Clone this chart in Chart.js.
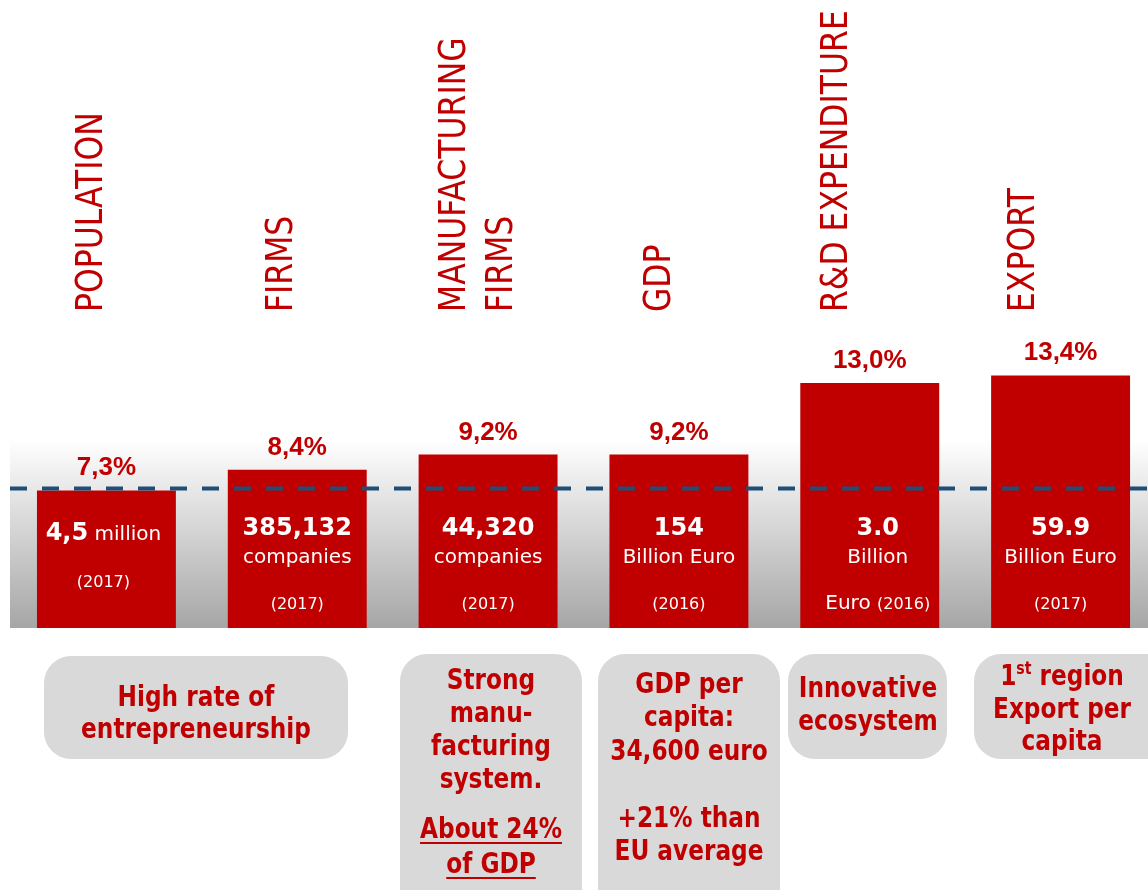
<!DOCTYPE html>
<html>
<head>
<meta charset="utf-8">
<script src="https://cdn.jsdelivr.net/npm/chart.js@4"></script>
<style>
  html, body { margin: 0; padding: 0; overflow: hidden; background: #fff; }
</style>
</head>
<body>
<canvas id="myChart" width="1160" height="890"></canvas>
<script>
// data
const categories = [['POPULATION'], ['FIRMS'], ['MANUFACTURING', 'FIRMS'], ['GDP'], ['R&D EXPENDITURE'], ['EXPORT']];
const shares = [7.3, 8.4, 9.2, 9.2, 13.0, 13.4];
const euAverage = 7.4;
const amounts = ['4,5', '385,132', '44,320', '154', '3.0', '59.9'];
const units = [' million', 'companies', 'companies', 'Billion Euro', 'Billion|Euro', 'Billion Euro'];
const years = ['(2017)', '(2017)', '(2017)', '(2016)', '(2016)', '(2017)'];
const notes = [
  ['High rate of', 'entrepreneurship'],
  ['Strong', 'manu-', 'facturing', 'system.', '_About 24%', '_of GDP'],
  ['GDP per', 'capita:', '34,600 euro', '+21% than', 'EU average'],
  ['Innovative', 'ecosystem'],
  ['1^st region', 'Export per', 'capita']
];

// layout
const RED = '#c00000';
const headShift = [-4, -5, -23, -9, -23, -27];
const innerShift = [-3, 0, 0, 0, 8, 0];
const noteBoxes = [
  { x: 44, y: 656, w: 304, h: 103, cx: 196, base: [706, 738] },
  { x: 400, y: 654, w: 182, h: 270, cx: 491, base: [689, 722, 755, 788, 838, 873] },
  { x: 598, y: 654, w: 182, h: 270, cx: 689, base: [693, 726, 760, 827, 860] },
  { x: 788, y: 654, w: 159, h: 105, cx: 868, base: [697, 730] },
  { x: 974, y: 654, w: 210, h: 105, cx: 1062, base: [685, 718, 750] }
];

// draws a list of [text, font, dy] pieces centred on cx
function drawRich(ctx, pieces, cx, y, sx, underline) {
  let widths = pieces.map(p => { ctx.font = p[1]; return ctx.measureText(p[0]).width * sx; });
  let total = widths.reduce((a, b) => a + b, 0);
  let x = cx - total / 2;
  pieces.forEach((p, i) => {
    ctx.save();
    ctx.font = p[1];
    ctx.translate(x, y + (p[2] || 0));
    ctx.scale(sx, 1);
    ctx.textAlign = 'left';
    ctx.textBaseline = 'alphabetic';
    ctx.fillText(p[0], 0, 0);
    ctx.restore();
    x += widths[i];
  });
  if (underline) {
    ctx.save();
    ctx.strokeStyle = ctx.fillStyle;
    ctx.lineWidth = 2;
    ctx.beginPath();
    ctx.moveTo(cx - total / 2, y + 5);
    ctx.lineTo(cx + total / 2, y + 5);
    ctx.stroke();
    ctx.restore();
  }
}

const decorPlugin = {
  id: 'decor',
  beforeDatasetsDraw(chart) {
    const ctx = chart.ctx;
    const y0 = chart.scales.y.getPixelForValue(0);
    const g = ctx.createLinearGradient(0, 440, 0, y0);
    g.addColorStop(0, '#ffffff');
    g.addColorStop(1, '#a6a6a6');
    ctx.save();
    ctx.fillStyle = g;
    ctx.fillRect(10, 440, chart.width, y0 - 440);
    ctx.restore();
  },
  afterDatasetsDraw(chart) {
    const ctx = chart.ctx;
    const bars = chart.getDatasetMeta(0).data;
    ctx.save();

    // dashed average line
    const ya = chart.scales.y.getPixelForValue(euAverage);
    ctx.strokeStyle = '#1f4e79';
    ctx.lineWidth = 4;
    ctx.setLineDash([17, 15]);
    ctx.beginPath();
    ctx.moveTo(10, ya);
    ctx.lineTo(chart.width, ya);
    ctx.stroke();
    ctx.setLineDash([]);

    bars.forEach((bar, i) => {
      // percentage above the bar
      ctx.fillStyle = RED;
      ctx.font = 'bold 26px "Liberation Sans"';
      ctx.textAlign = 'center';
      ctx.textBaseline = 'alphabetic';
      ctx.fillText(shares[i].toFixed(1).replace('.', ',') + '%', bar.x, bar.y - 15);

      // rotated category titles
      categories[i].forEach((line, li) => {
        ctx.save();
        ctx.translate(bar.x + headShift[i] + li * 47, 312);
        ctx.rotate(-Math.PI / 2);
        ctx.scale(0.85, 1);
        ctx.font = '37px "DejaVu Sans"';
        ctx.textAlign = 'left';
        ctx.fillText(line, 0, 0);
        ctx.restore();
      });

      // white text inside the bar
      ctx.fillStyle = '#ffffff';
      const cx = bar.x + innerShift[i];
      const big = 'bold 24px "DejaVu Sans"';
      const mid = '20px "DejaVu Sans"';
      const small = '16px "DejaVu Sans"';
      if (units[i].startsWith(' ')) {
        drawRich(ctx, [[amounts[i], big], [units[i], mid]], cx, 540, 1);
        drawRich(ctx, [[years[i], small]], cx, 587, 1);
      } else {
        const parts = units[i].split('|');
        drawRich(ctx, [[amounts[i], big]], cx, 535, 1);
        drawRich(ctx, [[parts[0], mid]], cx, 563, 1);
        const yl = parts[1] ? [[parts[1] + ' ', mid], [years[i], small]] : [[years[i], small]];
        drawRich(ctx, yl, cx, 609, 1);
      }
    });

    // grey note boxes
    noteBoxes.forEach((b, i) => {
      ctx.fillStyle = '#d9d9d9';
      ctx.beginPath();
      ctx.roundRect(b.x, b.y, b.w, b.h, 27);
      ctx.fill();
      ctx.fillStyle = RED;
      const f = 'bold 28px "DejaVu Sans"';
      notes[i].forEach((line, li) => {
        let under = false;
        if (line.startsWith('_')) { under = true; line = line.slice(1); }
        let pieces;
        const m = line.match(/^(.*)\^(\w+)(.*)$/);
        if (m) pieces = [[m[1], f], [m[2], 'bold 17px "DejaVu Sans"', -11], [m[3], f]];
        else pieces = [[line, f]];
        drawRich(ctx, pieces, b.cx, b.base[li], 0.83, under);
      });
    });

    ctx.restore();
  }
};

const ctx = document.getElementById('myChart').getContext('2d');
const chart = new Chart(ctx, {
  type: 'bar',
  data: {
    labels: categories.map(c => c.join(' ')),
    datasets: [
      {
        data: shares,
        backgroundColor: RED,
        borderWidth: 0,
        barPercentage: 0.728,
        categoryPercentage: 1
      }
    ]
  },
  options: {
    responsive: false,
    animation: false,
    layout: { padding: { left: 11, right: 4, top: 251, bottom: 262 } },
    scales: {
      x: { display: false },
      y: { display: false, min: 0, max: 20 }
    },
    plugins: {
      legend: { display: false },
      tooltip: { enabled: false }
    }
  },
  plugins: [decorPlugin]
});
</script>
</body>
</html>
